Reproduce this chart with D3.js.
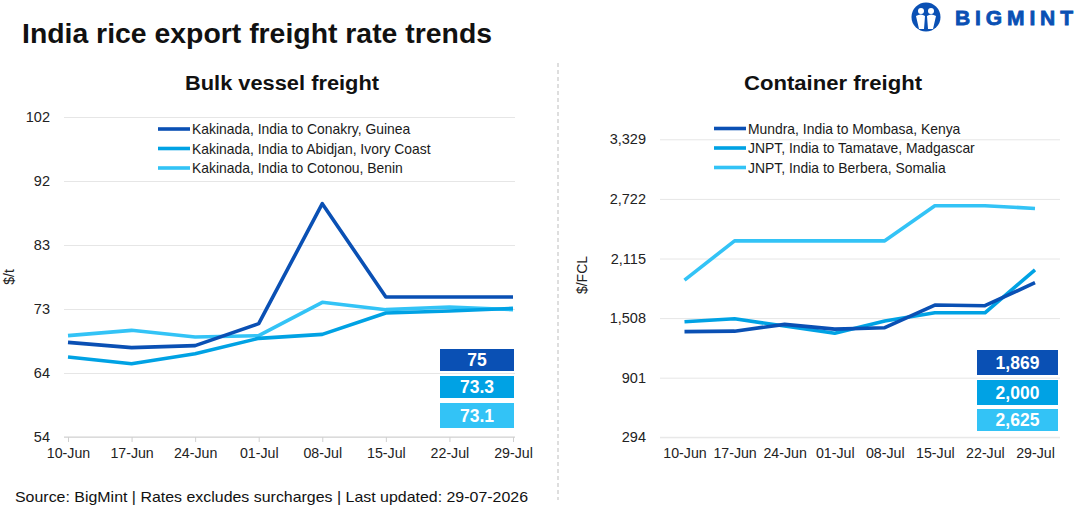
<!DOCTYPE html>
<html>
<head>
<meta charset="utf-8">
<script src="https://cdn.jsdelivr.net/npm/d3@7"></script>
<style>
  body { margin: 0; background: #fff; }
  svg { display: block; font-family: "Liberation Sans", Arial, sans-serif; }
</style>
</head>
<body>
<svg id="canvas"></svg>
<script>
const WIDTH = 1080;
const HEIGHT = 513;

const DARK = "#0a50b4";
const MID = "#00a2e4";
const LIGHT = "#33c3f6";

// data
const weeks = ["10-Jun", "17-Jun", "24-Jun", "01-Jul", "08-Jul", "15-Jul", "22-Jul", "29-Jul"];

const bulkNames = [
  "Kakinada, India to Conakry, Guinea",
  "Kakinada, India to Abidjan, Ivory Coast",
  "Kakinada, India to Cotonou, Benin",
];
const conakry = [68.2, 67.4, 67.7, 71, 89, 75, 75, 75];
const abidjan = [66, 65, 66.5, 68.8, 69.4, 72.6, 72.9, 73.3];
const cotonou = [69.2, 70, 69, 69.2, 74.2, 73.1, 73.5, 73.1];
const bulkLast = ["75", "73.3", "73.1"];
const bulkTicks = [54, 63.6, 73.2, 82.8, 92.4, 102];
const bulkTickLabels = ["54", "64", "73", "83", "92", "102"];

const contNames = [
  "Mundra, India to Mombasa, Kenya",
  "JNPT, India to Tamatave, Madgascar",
  "JNPT, India to Berbera, Somalia",
];
const mombasa = [1370, 1375, 1444, 1396, 1410, 1641, 1634, 1869];
const tamatave = [1471, 1501, 1427, 1353, 1478, 1562, 1562, 2000];
const berbera = [1895, 2295, 2295, 2295, 2295, 2652, 2652, 2625];
const contLast = ["1,869", "2,000", "2,625"];
const contTicks = [294, 901, 1508, 2115, 2722, 3329];

const colors = [DARK, MID, LIGHT];

const canvas = d3.select("#canvas").attr("width", WIDTH).attr("height", HEIGHT);

// header
canvas.append("text")
  .attr("x", 22).attr("y", 43)
  .attr("font-size", 27).attr("font-weight", "bold").attr("fill", "#111")
  .attr("textLength", 470).attr("lengthAdjust", "spacingAndGlyphs")
  .text("India rice export freight rate trends");

const logo = canvas.append("g").attr("transform", "translate(926,17)");
logo.append("circle").attr("r", 14.5).attr("fill", DARK);
logo.append("circle").attr("cx", -5).attr("cy", -6).attr("r", 3).attr("fill", "#fff");
logo.append("circle").attr("cx", 5).attr("cy", -6).attr("r", 3).attr("fill", "#fff");
logo.append("path").attr("d", "M-10,-1 Q-5,-4 -1,-1 L-2,12 L-7,12 Z M10,-1 Q5,-4 1,-1 L2,12 L7,12 Z").attr("fill", "#fff");
canvas.append("text")
  .attr("x", 955).attr("y", 25)
  .attr("font-size", 21).attr("font-weight", "bold").attr("fill", DARK)
  .attr("stroke", DARK).attr("stroke-width", 0.8)
  .attr("textLength", 118).attr("lengthAdjust", "spacing")
  .text("BIGMINT");

// separator
canvas.append("line")
  .attr("x1", 558).attr("x2", 558).attr("y1", 63).attr("y2", 500)
  .attr("stroke", "#bdbdbd").attr("stroke-dasharray", "4,3");

canvas.append("text")
  .attr("x", 15).attr("y", 502)
  .attr("font-size", 15).attr("fill", "#111")
  .attr("textLength", 513).attr("lengthAdjust", "spacingAndGlyphs")
  .text("Source: BigMint  | Rates excludes surcharges | Last updated: 29-07-2026");

const drawPanel = (cfg) => {
  const g = canvas.append("g");

  const xScale = d3.scalePoint().domain(weeks).range(cfg.xRange);
  const yScale = d3.scaleLinear().domain(cfg.yDomain).range(cfg.yRange);

  g.append("text")
    .attr("x", cfg.titleX).attr("y", 90)
    .attr("text-anchor", "middle")
    .attr("font-size", 20).attr("font-weight", "bold").attr("fill", "#111")
    .attr("textLength", cfg.titleW).attr("lengthAdjust", "spacingAndGlyphs")
    .text(cfg.title);

  // grid + y labels
  const yAxis = d3.axisLeft(yScale)
    .tickValues(cfg.ticks)
    .tickSize(-(cfg.gridRange[1] - cfg.gridRange[0]))
    .tickPadding(14)
    .tickFormat((d, i) => cfg.tickLabels[i]);

  g.append("g")
    .attr("transform", "translate(" + cfg.gridRange[0] + ",0)")
    .call(yAxis)
    .call((a) => a.select(".domain").remove())
    .call((a) => a.selectAll(".tick line").attr("stroke", "#e6e6e6"))
    .call((a) => a.selectAll(".tick text")
      .attr("font-size", 14.5).attr("fill", "#222")
      .attr("font-family", "'Liberation Sans', Arial, sans-serif"));

  // x axis
  const xAxis = d3.axisBottom(xScale).tickSize(cfg.xTickSize).tickPadding(cfg.xTickSize ? 6 : 11);
  g.append("g")
    .attr("transform", "translate(0," + cfg.yRange[0] + ")")
    .call(xAxis)
    .call((a) => a.select(".domain")
      .attr("d", "M" + cfg.gridRange[0] + ",0H" + cfg.gridRange[1])
      .attr("stroke", cfg.xTickSize ? "#d0d0d0" : "#e6e6e6"))
    .call((a) => a.selectAll(".tick line").attr("stroke", "#d0d0d0"))
    .call((a) => a.selectAll(".tick text")
      .attr("font-size", 14.2).attr("fill", "#222")
      .attr("font-family", "'Liberation Sans', Arial, sans-serif"));

  g.append("text")
    .attr("transform", "translate(" + cfg.yTitleX + "," + cfg.yTitleY + ") rotate(-90)")
    .attr("text-anchor", "middle")
    .attr("font-size", 14).attr("fill", "#222")
    .text(cfg.yTitle);

  const line = d3.line()
    .x((d, i) => xScale(weeks[i]))
    .y((d) => yScale(d));

  g.selectAll(".series")
    .data(cfg.series.slice().reverse())
    .enter()
    .append("path")
    .attr("fill", "none")
    .attr("stroke", (d, i) => colors[2 - i])
    .attr("stroke-width", 3.6)
    .attr("stroke-linejoin", "round")
    .attr("d", line);

  // legend
  const leg = g.selectAll(".leg")
    .data(cfg.names)
    .enter()
    .append("g")
    .attr("transform", (d, i) => "translate(" + cfg.legX + "," + (cfg.legY + i * 19.5) + ")");
  leg.append("line")
    .attr("x1", 0).attr("x2", 32)
    .attr("stroke", (d, i) => colors[i]).attr("stroke-width", 3.6);
  leg.append("text")
    .attr("x", 34).attr("dy", "0.36em")
    .attr("font-size", 13.9).attr("fill", "#1a1a1a")
    .text((d) => d);

  // last value boxes
  const box = g.selectAll(".box")
    .data(cfg.last)
    .enter()
    .append("g")
    .attr("transform", (d, i) => "translate(" + cfg.boxX + "," + cfg.boxY[i] + ")");
  box.append("rect")
    .attr("width", cfg.boxW)
    .attr("height", (d, i) => cfg.boxH[i])
    .attr("fill", (d, i) => colors[i]);
  box.append("text")
    .attr("x", cfg.boxW / 2)
    .attr("y", (d, i) => cfg.boxH[i] / 2)
    .attr("dy", "0.36em")
    .attr("text-anchor", "middle")
    .attr("font-size", 17.5).attr("font-weight", "bold").attr("fill", "#fff")
    .text((d) => d);
};

drawPanel({
  title: "Bulk vessel freight",
  titleX: 282, titleW: 194,
  xRange: [68, 513],
  yDomain: [54, 102], yRange: [437, 117],
  gridRange: [64, 515],
  ticks: bulkTicks, tickLabels: bulkTickLabels,
  xTickSize: 5,
  yTitle: "$/t", yTitleX: 14, yTitleY: 277,
  series: [conakry, abidjan, cotonou],
  names: bulkNames,
  legX: 158, legY: 129,
  last: bulkLast,
  boxX: 440, boxW: 74,
  boxY: [349, 376, 403], boxH: [22, 22, 25],
});

drawPanel({
  title: "Container freight",
  titleX: 833, titleW: 178,
  xRange: [684.5, 1035],
  yDomain: [294, 3329], yRange: [437.3, 139.3],
  gridRange: [660, 1060],
  ticks: contTicks, tickLabels: contTicks.map(d3.format(",")),
  xTickSize: 0,
  yTitle: "$/FCL", yTitleX: 587, yTitleY: 275,
  series: [mombasa, tamatave, berbera],
  names: contNames,
  legX: 714, legY: 128.5,
  last: contLast,
  boxX: 977, boxW: 81,
  boxY: [350, 380, 409], boxH: [25, 25, 22],
});
</script>
</body>
</html>
